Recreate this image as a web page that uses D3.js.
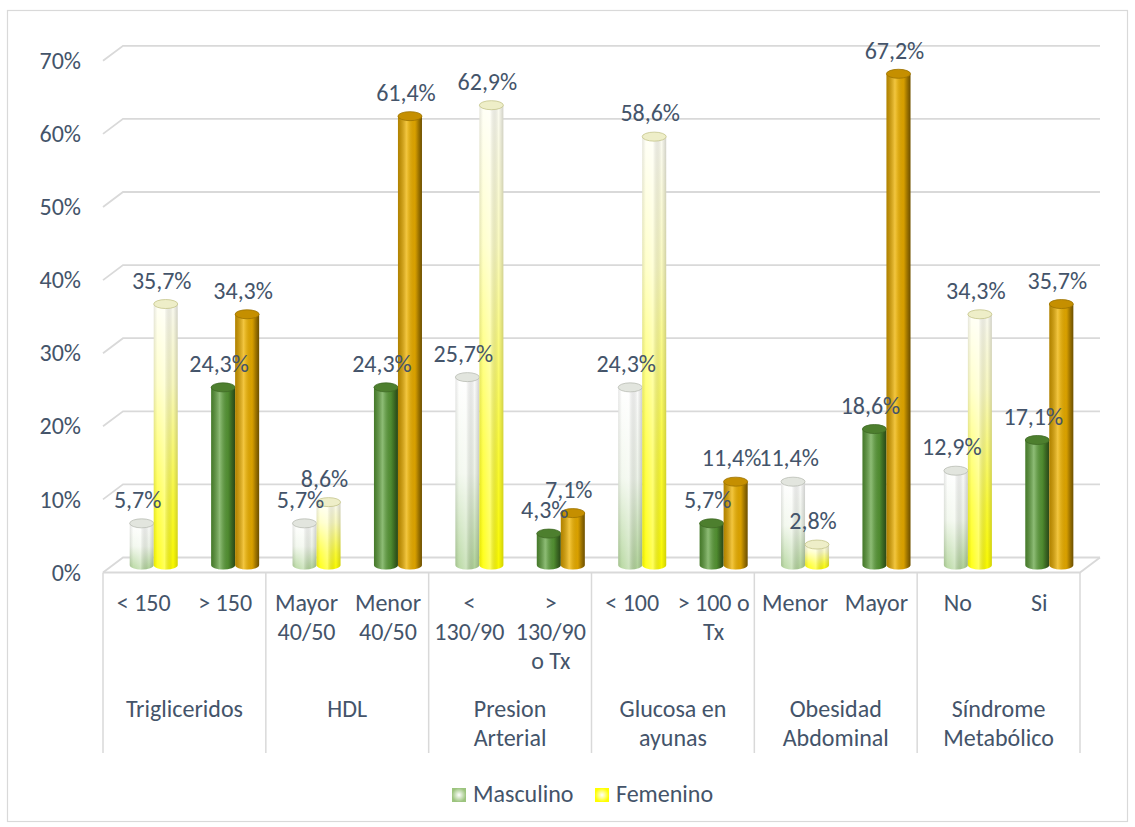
<!DOCTYPE html>
<html>
<head>
<meta charset="utf-8">
<script src="https://cdn.jsdelivr.net/npm/d3@7"></script>
<style>
    body { margin: 0; background: #fff; }
    text { font-family: Carlito, Calibri, "Liberation Sans", Arial, sans-serif; fill: #44546a; }
</style>
</head>
<body>
<svg id="chart" width="1135" height="827"></svg>
<script>
// data
const subLabels = ["< 150", "> 150", "Mayor\n40/50", "Menor\n40/50", "<\n130/90", ">\n130/90\no Tx",
                   "< 100", "> 100 o\nTx", "Menor", "Mayor", "No", "Si"];
const groups = ["Trigliceridos", "HDL", "Presion\nArterial", "Glucosa en\nayunas", "Obesidad\nAbdominal", "Síndrome\nMetabólico"];
const masculino = [5.7, 24.3, 5.7, 24.3, 25.7, 4.3, 24.3, 5.7, 11.4, 18.6, 12.9, 17.1];
const femenino = [35.7, 34.3, 8.6, 61.4, 62.9, 7.1, 58.6, 11.4, 2.8, 67.2, 34.3, 35.7];
const yTicks = [0, 10, 20, 30, 40, 50, 60, 70];
const seriesNames = ["Masculino", "Femenino"];

const svg = d3.select("#chart");
const fs = 24;
const depthX = 20, depthY = -15;   // front -> back wall offset

// chart border
svg.append("rect")
    .attr("x", 7.5).attr("y", 10.5)
    .attr("width", 1120).attr("height", 811)
    .attr("fill", "none").attr("stroke", "#d9d9d9").attr("stroke-width", 1.2);

// scales (x on the front edge, y at the middle depth where the bars stand)
const xSub = d3.scaleBand().domain(d3.range(subLabels.length)).range([103, 1080]);
const xGroup = d3.scaleBand().domain(d3.range(groups.length)).range([103, 1080]);
const yScale = d3.scaleLinear().domain([0, 70]).range([565, 565 - 7 * 73.1]);
const yFront = v => yScale(v) - depthY / 2;
const yBack = v => yScale(v) + depthY / 2;
const xL = 103, xR = 1080;

// gradients
const defs = svg.append("defs");
function linGrad(id, stops, vertical) {
    const g = defs.append("linearGradient").attr("id", id)
        .attr("x1", 0).attr("y1", 0).attr("x2", vertical ? 0 : 1).attr("y2", vertical ? 1 : 0);
    stops.forEach(s => g.append("stop").attr("offset", s[0]).attr("stop-color", s[1]).attr("stop-opacity", s[2] === undefined ? 1 : s[2]));
}
linGrad("lightM", [[0, "#ffffff"], [0.5, "#f1f7ec"], [1, "#b2d59a"]], true);
linGrad("lightF", [[0, "#fffff6"], [0.3, "#ffffc4"], [0.75, "#ffff38"], [1, "#ffff00"]], true);
linGrad("darkM", [[0, "#4f8a30"], [0.4, "#6aa94a"], [0.75, "#4e8a2e"], [1, "#3a6621"]], false);
linGrad("darkF", [[0, "#c99400"], [0.4, "#f2b600"], [0.75, "#d9a000"], [1, "#9c7200"]], false);
linGrad("shadeDark", [[0, "#000", 0.12], [0.35, "#fff", 0.25], [0.7, "#000", 0.02], [1, "#000", 0.3]], false);
linGrad("shadeLight", [[0, "#000", 0.1], [0.15, "#fff", 0.1], [0.45, "#fff", 0.35], [0.8, "#000", 0.02], [1, "#000", 0.18]], false);

const legM = defs.append("radialGradient").attr("id", "legM");
legM.append("stop").attr("offset", 0).attr("stop-color", "#ffffff");
legM.append("stop").attr("offset", 1).attr("stop-color", "#9cc47e");
const legF = defs.append("radialGradient").attr("id", "legF");
legF.append("stop").attr("offset", 0).attr("stop-color", "#ffffff");
legF.append("stop").attr("offset", 1).attr("stop-color", "#ffff00");

// gridlines on the back wall + the side diagonals
const grid = svg.append("g").attr("stroke", "#d9d9d9").attr("stroke-width", 1.8).attr("fill", "none");
grid.selectAll(".gl").data(yTicks).enter().append("path")
    .attr("d", d => `M${xL},${yFront(d)}L${xL + depthX},${yBack(d)}L${xR + depthX},${yBack(d)}`);
// floor front edge and right side
grid.append("path").attr("d", `M${xL},${yFront(0)}L${xR},${yFront(0)}L${xR + depthX},${yBack(0)}`);

// y axis labels on the front edge
const yAxis = svg.append("g")
    .attr("transform", `translate(${xL},${-depthY / 2})`)
    .call(d3.axisLeft(yScale).tickValues(yTicks).tickSize(0).tickPadding(22).tickFormat(d => d + "%"));
yAxis.select(".domain").remove();
yAxis.selectAll("text").style("font-size", fs + "px").attr("fill", "#44546a");

// group dividers under the floor
svg.append("g").attr("stroke", "#d9d9d9").attr("stroke-width", 1.5)
    .selectAll("line").data(d3.range(groups.length + 1)).enter().append("line")
    .attr("x1", d => xL + d * xGroup.step()).attr("x2", d => xL + d * xGroup.step())
    .attr("y1", yFront(0)).attr("y2", 753);

// bars, standing at the middle depth
const bw = 24, ry = 4.5;
const bars = [];
subLabels.forEach((s, i) => {
    const cx = xSub(i) + xSub.bandwidth() / 2 + depthX / 2;
    const light = i % 2 === 0;
    bars.push({ x: cx - bw / 2, v: masculino[i], light, fill: light ? "lightM" : "darkM", top: light ? "#e2e5de" : "#4d7f2e", rim: light ? "#b9bdb4" : "#3f6a25" });
    bars.push({ x: cx + bw / 2, v: femenino[i], light, fill: light ? "lightF" : "darkF", top: light ? "#eeeec8" : "#c58f00", rim: light ? "#c4c48a" : "#9c7200" });
});

function body(b) {
    const x0 = b.x - bw / 2, x1 = b.x + bw / 2, yt = yScale(b.v), yb = yScale(0);
    return `M${x0},${yt}L${x0},${yb}A${bw / 2},${ry} 0 0 0 ${x1},${yb}L${x1},${yt}Z`;
}
const gBars = svg.append("g");
const barG = gBars.selectAll("g").data(bars).enter().append("g");
barG.append("path").attr("d", body).attr("fill", d => `url(#${d.fill})`);
barG.append("path").attr("d", body).attr("fill", d => d.light ? "url(#shadeLight)" : "url(#shadeDark)");
barG.append("ellipse")
    .attr("cx", d => d.x).attr("cy", d => yScale(d.v))
    .attr("rx", bw / 2).attr("ry", ry)
    .attr("fill", d => d.top).attr("stroke", d => d.rim).attr("stroke-width", 0.8);

// data labels
svg.append("g").selectAll("text").data(bars).enter().append("text")
    .attr("x", d => d.x - 4).attr("y", d => yScale(d.v) - 21)
    .attr("text-anchor", "middle").attr("dominant-baseline", "middle")
    .style("font-size", fs + "px")
    .text(d => d.v.toFixed(1).replace(".", ",") + "%");

// category labels
function multiline(sel, lineH) {
    sel.each(function (d) {
        const t = d3.select(this);
        d.split("\n").forEach((line, k) => {
            t.append("tspan").attr("x", t.attr("x")).attr("y", +t.attr("y") + k * lineH).text(line);
        });
    });
}
svg.append("g").selectAll("text").data(subLabels).enter().append("text")
    .attr("x", (d, i) => xSub(i) + xSub.bandwidth() / 2).attr("y", 605)
    .attr("text-anchor", "middle").attr("dominant-baseline", "middle")
    .style("font-size", fs + "px")
    .call(multiline, 29);

svg.append("g").selectAll("text").data(groups).enter().append("text")
    .attr("x", (d, i) => xGroup(i) + xGroup.bandwidth() / 2).attr("y", 711)
    .attr("text-anchor", "middle").attr("dominant-baseline", "middle")
    .style("font-size", fs + "px")
    .call(multiline, 29);

// legend
const legX = [452, 595];
const leg = svg.append("g").selectAll("g").data(seriesNames).enter().append("g")
    .attr("transform", (d, i) => `translate(${legX[i]},788)`);
leg.append("rect").attr("width", 14).attr("height", 14)
    .attr("fill", (d, i) => i === 0 ? "url(#legM)" : "url(#legF)");
leg.append("text").attr("x", 21).attr("y", 8)
    .attr("dominant-baseline", "middle")
    .style("font-size", fs + "px")
    .text(d => d);
</script>
</body>
</html>
